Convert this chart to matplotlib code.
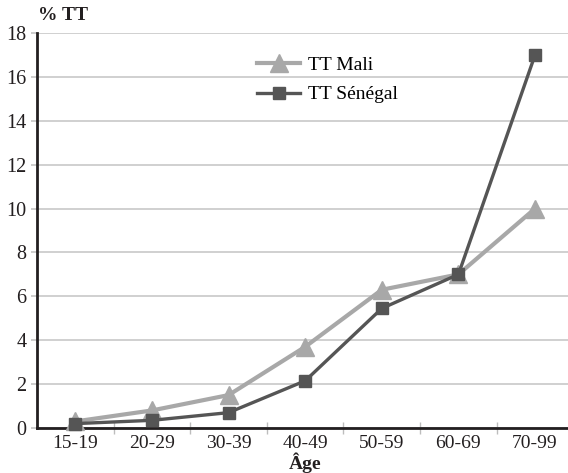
import numpy as np
import matplotlib.pyplot as plt
from matplotlib.ticker import FixedLocator

plt.rcParams['font.family'] = ['Liberation Serif', 'DejaVu Serif']

ages = ['15-19', '20-29', '30-39', '40-49', '50-59', '60-69', '70-99']
tt_mali = [0.3, 0.8, 1.5, 3.7, 6.3, 7.0, 10.0]
tt_senegal = [0.2, 0.35, 0.7, 2.15, 5.45, 7.0, 17.0]
y_ticks = [0, 2, 4, 6, 8, 10, 12, 14, 16, 18]

fig = plt.figure(figsize=(5.68, 4.73), dpi=100)
ax = fig.add_axes([37 / 568, 45 / 473, 531 / 568, 395 / 473])

x = np.arange(len(ages))
ax.plot(x, tt_mali, color='#a8a8a8', lw=3.0, marker='^', ms=12.5,
        label='TT Mali', zorder=3, clip_on=False)
ax.plot(x, tt_senegal, color='#555555', lw=2.4, marker='s', ms=8,
        label='TT Sénégal', zorder=4, clip_on=False)

ax.set_xlim(-0.5, 6.43)
ax.set_ylim(0, 18)
ax.set_xticks(x)
ax.set_xticklabels(ages)
ax.xaxis.set_minor_locator(FixedLocator(np.arange(0.5, 6.5, 1)))
ax.tick_params(axis='x', which='major', length=0, pad=5, labelsize=14, colors='#231f20')
ax.tick_params(axis='x', which='minor', length=8, width=1, direction='inout', color='#bdbdbd')
ax.set_yticks(y_ticks)
ax.tick_params(axis='y', length=4, width=1.2, color='#c4c4c4', pad=3.5, labelsize=14.5,
               labelcolor='#231f20')

ax.grid(axis='y', color='#c8c8c8', lw=1.2)
ax.set_axisbelow(True)
for s in ['top', 'right']:
    ax.spines[s].set_visible(False)
for s in ['left', 'bottom']:
    ax.spines[s].set_color('#231f20')
    ax.spines[s].set_linewidth(2)
ax.spines['bottom'].set_zorder(2.5)

fig.text(38 / 568, 1 - 15 / 473, '% TT', fontsize=14, fontweight='bold',
         va='center', ha='left', color='#231f20')
fig.text(305 / 568, 1 - 463 / 473, 'Âge', fontsize=14, fontweight='bold',
         va='center', ha='center', color='#231f20')

ax.legend(loc='upper left', bbox_to_anchor=(0.4, 0.96), frameon=False,
          fontsize=14, handlelength=2.2, handletextpad=0.4, labelspacing=0.6,
          borderaxespad=0)

fig.savefig('out.png', dpi=100)
